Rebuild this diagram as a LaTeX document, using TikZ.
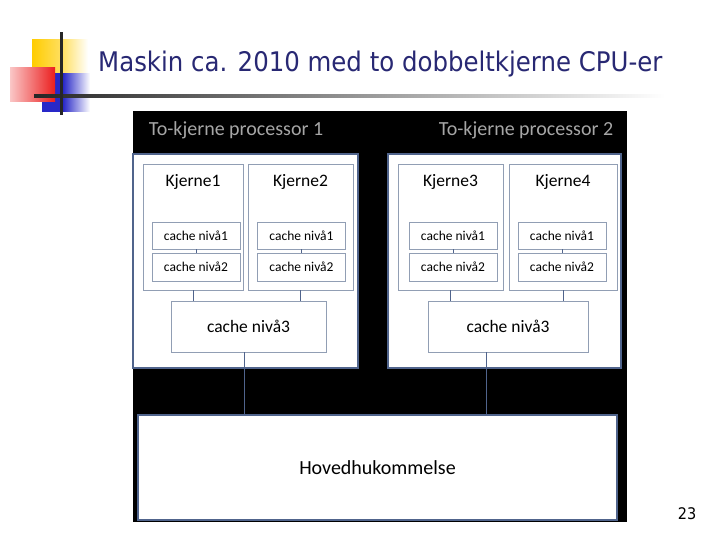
\documentclass[tikz,border=0pt]{standalone}
\usepackage{fontspec}
\setmainfont{Carlito}
\newfontfamily\titlefont[FakeStretch=0.905]{DejaVu Sans}
\usetikzlibrary{positioning}

\definecolor{slidetitle}{RGB}{40,40,115}
\definecolor{frameblue}{RGB}{80,100,140}
\definecolor{boxgray}{RGB}{145,158,180}
\definecolor{slideyellow}{RGB}{255,204,0}
\definecolor{slidered}{RGB}{235,30,30}
\definecolor{slideblue}{RGB}{40,40,200}

\begin{document}
\begin{tikzpicture}[
    x=1pt, y=-1pt,
    procbox/.style={draw=frameblue, line width=1.6pt, fill=white, inner sep=0pt},
    corebox/.style={draw=boxgray, line width=0.8pt, fill=white, inner sep=0pt, minimum height=126pt},
    cachebox/.style={draw=boxgray, line width=0.8pt, fill=white, inner sep=0pt, minimum width=88pt,
        font=\fontsize{13.5}{13.5}\selectfont},
    lthree/.style={draw=boxgray, line width=0.8pt, fill=white, inner sep=0pt, minimum height=51pt,
        font=\fontsize{17.5}{17.5}\selectfont},
    membox/.style={draw=frameblue, line width=1.6pt, fill=white, inner sep=0pt,
        font=\fontsize{20}{20}\selectfont},
    corelabel/.style={anchor=north, inner sep=0pt, yshift=-11pt, font=\fontsize{17.5}{17.5}\selectfont},
    proctitle/.style={text=gray!70, font=\fontsize{20}{20}\selectfont},
    wire/.style={draw=frameblue, line width=0.8pt}
]
    \useasboundingbox (0,0) rectangle (720,540);

    % Slide decoration
    \shade[left color=slideyellow, right color=slideyellow!60!white] (32,40) rectangle (63,74);
    \shade[left color=slideyellow!60!white, right color=white] (63,40) rectangle (88,74);
    \shade[left color=slideblue, right color=slideblue] (42,74) rectangle (63,112);
    \shade[left color=slideblue, right color=white] (63,74) rectangle (90,112);
    \shade[left color=slidered!25!white, right color=slidered] (10,68) rectangle (55,102);
    \shade[left color=black!85, right color=white] (34,95) rectangle (665,98);
    \fill[black!85] (60.2,32) rectangle (62.6,115);

    % Slide title and page number
    \node[anchor=base west, inner sep=0pt, text=slidetitle, font=\titlefont\fontsize{27}{27}\selectfont]
        (title) at (98,72) {Maskin ca. 2010 med to dobbeltkjerne CPU-er};
    \node[font=\titlefont\fontsize{16}{16}\selectfont] (pagenr) at (687,514) {23};

    % Black background
    \fill[black] (133,111) rectangle (627,522);

    % Processor 1
    \node[proctitle] (ptitle1) at (236,130) {To-kjerne processor 1};
    \node[procbox, minimum width=225pt, minimum height=214pt] (proc1) at (245.5,261) {};
    \node[corebox, minimum width=100pt, label={[corelabel]north:Kjerne1}] (core1) at (193,227) {};
    \node[corebox, minimum width=105pt, label={[corelabel]north:Kjerne2}] (core2) at (300.5,227) {};
    \node[cachebox, minimum height=27pt] (c1a) at (196,235.5) {cache nivå1};
    \node[cachebox, minimum height=28pt] (c1b) at (196,267) {cache nivå2};
    \node[cachebox, minimum height=27pt] (c2a) at (301.5,235.5) {cache nivå1};
    \node[cachebox, minimum height=28pt] (c2b) at (301.5,267) {cache nivå2};
    \node[lthree, minimum width=155pt] (l3a) at (248.5,326.5) {cache nivå3};

    % Processor 2
    \node[proctitle] (ptitle2) at (526,130) {To-kjerne processor 2};
    \node[procbox, minimum width=233pt, minimum height=214pt] (proc2) at (504.5,261) {};
    \node[corebox, minimum width=105pt, label={[corelabel]north:Kjerne3}] (core3) at (450.5,227) {};
    \node[corebox, minimum width=108pt, label={[corelabel]north:Kjerne4}] (core4) at (563,227) {};
    \node[cachebox, minimum height=27pt] (c3a) at (453,235.5) {cache nivå1};
    \node[cachebox, minimum height=28pt] (c3b) at (453,267) {cache nivå2};
    \node[cachebox, minimum height=27pt] (c4a) at (562,235.5) {cache nivå1};
    \node[cachebox, minimum height=28pt] (c4b) at (562,267) {cache nivå2};
    \node[lthree, minimum width=160pt] (l3b) at (508,326.5) {cache nivå3};

    % Main memory
    \node[membox, minimum width=479pt, minimum height=105pt] (mem) at (377.5,467.5) {Hovedhukommelse};

    % Connections
    \draw[wire] (c1a) -- (c1b);
    \draw[wire] (c2a) -- (c2b);
    \draw[wire] (c3a) -- (c3b);
    \draw[wire] (c4a) -- (c4b);
    \draw[wire] (core1.south) -- (core1.south |- l3a.north);
    \draw[wire] (core2.south) -- (core2.south |- l3a.north);
    \draw[wire] (core3.south) -- (core3.south |- l3b.north);
    \draw[wire] (core4.south) -- (core4.south |- l3b.north);
    \draw[wire] ([xshift=-4pt]l3a.south) -- ([xshift=-4pt]l3a.south |- mem.north);
    \draw[wire] ([xshift=-22pt]l3b.south) -- ([xshift=-22pt]l3b.south |- mem.north);
\end{tikzpicture}
\end{document}
